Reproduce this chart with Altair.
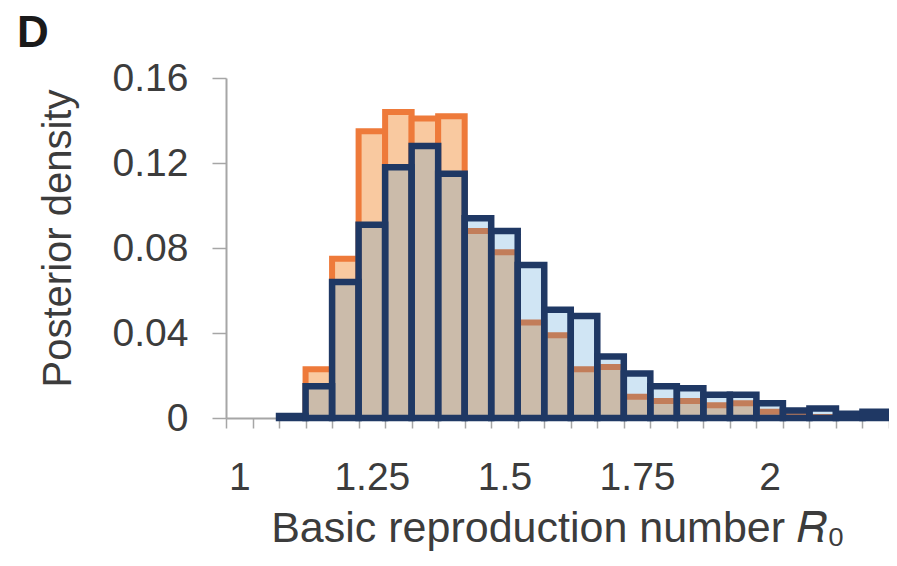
import altair as alt
import pandas as pd

# bin starts (width 0.05), one Excel category each
bin_starts = [1.0, 1.05, 1.1, 1.15, 1.2, 1.25, 1.3, 1.35, 1.4, 1.45, 1.5, 1.55, 1.6,
              1.65, 1.7, 1.75, 1.8, 1.85, 1.9, 1.95, 2.0, 2.05, 2.1, 2.15, 2.2]
orange_density = [0, 0, 0, 0.023, 0.075, 0.135, 0.144, 0.141, 0.142, 0.088, 0.078,
                  0.045, 0.039, 0.023, 0.024, 0.010, 0.008, 0.008, 0.006, 0.007,
                  0.003, 0.001, 0.0005, 0, 0]
blue_density = [0, 0, 0.001, 0.015, 0.064, 0.091, 0.118, 0.128, 0.115, 0.094, 0.088,
                0.072, 0.051, 0.048, 0.029, 0.021, 0.015, 0.014, 0.011, 0.011,
                0.007, 0.0035, 0.0045, 0.002, 0.003]
x_label_values = [1, 1.25, 1.5, 1.75, 2]
y_ticks = [0, 0.04, 0.08, 0.12, 0.16]

BW = 0.05
x0 = bin_starts[0] - BW / 2
x1 = bin_starts[-1] + BW / 2
edges = [round(x0 + BW * k, 4) for k in range(len(bin_starts) + 1)]

def frame(vals):
    d = pd.DataFrame({"c": bin_starts, "v": vals})
    d = d[d["v"] > 0].copy()
    d["lo"] = d["c"] - BW / 2
    d["hi"] = d["c"] + BW / 2
    return d

orange = frame(orange_density)
blue = frame(blue_density)

W, H = 663, 340
FONT = "Liberation Sans"
GRAY = "#A6A6A6"
TXT = "#3C3C3C"

xscale = alt.Scale(domain=[x0, x1], nice=False, zero=False)
yscale = alt.Scale(domain=[0, 0.16], nice=False)

# axis with the tick marks at bin edges
x_tick_axis = alt.Axis(orient="bottom", values=edges, labels=False, title=None,
                       tickSize=10, tickColor=GRAY, tickWidth=1.5,
                       domainColor=GRAY, domainWidth=2, grid=False)
# axis with the labels centred under bins
x_label_axis = alt.Axis(orient="bottom", values=x_label_values, format=".2~f",
                        ticks=False, domain=False, grid=False,
                        labelFont=FONT, labelFontSize=39, labelColor=TXT,
                        labelPadding=40, labelFlush=False, labelOverlap=False,
                        title="Basic reproduction number 𝑅₀", titleFont=FONT,
                        titleFontSize=43, titleFontWeight="normal", titleColor=TXT,
                        titlePadding=10)
yaxis = alt.Axis(values=y_ticks, format=".2~f", tickSize=14, tickColor=GRAY, tickWidth=1.5,
                 domainColor=GRAY, domainWidth=2, labelFont=FONT, labelFontSize=39,
                 labelColor=TXT, labelPadding=24, grid=False,
                 title="Posterior density", titleFont=FONT, titleFontSize=40,
                 titleFontWeight="normal", titleColor=TXT, titlePadding=34, titleY=160)

orange_layer = alt.Chart(orange).mark_rect(
    fill="#F9C9A0", stroke="#EE7A3A", strokeWidth=6, strokeJoin="miter"
).encode(
    x=alt.X("lo:Q", scale=xscale, axis=x_label_axis),
    x2="hi:Q",
    y=alt.Y("v:Q", scale=yscale, axis=yaxis),
    y2=alt.datum(0),
)

blue_layer = alt.Chart(blue).mark_rect(
    fill="#2787CC", fillOpacity=0.22, stroke="#1F3864", strokeWidth=6.5, strokeJoin="miter"
).encode(
    x=alt.X("lo:Q", scale=xscale, axis=x_tick_axis),
    x2="hi:Q",
    y=alt.Y("v:Q", scale=yscale),
    y2=alt.datum(0),
)

chart = alt.layer(orange_layer, blue_layer).resolve_axis(x="independent").properties(
    width=W, height=H,
    autosize=alt.AutoSizeParams(type="none"),
    padding={"left": 218, "top": 70, "right": 0, "bottom": 135},
    title=alt.TitleParams("D", anchor="start", frame="bounds", font=FONT, fontSize=44,
                          fontWeight="bold", color="#1A1A1A", dx=-21, offset=3),
).configure_view(stroke=None)

chart.save("out.html", embed_options={"renderer": "svg", "actions": False})
